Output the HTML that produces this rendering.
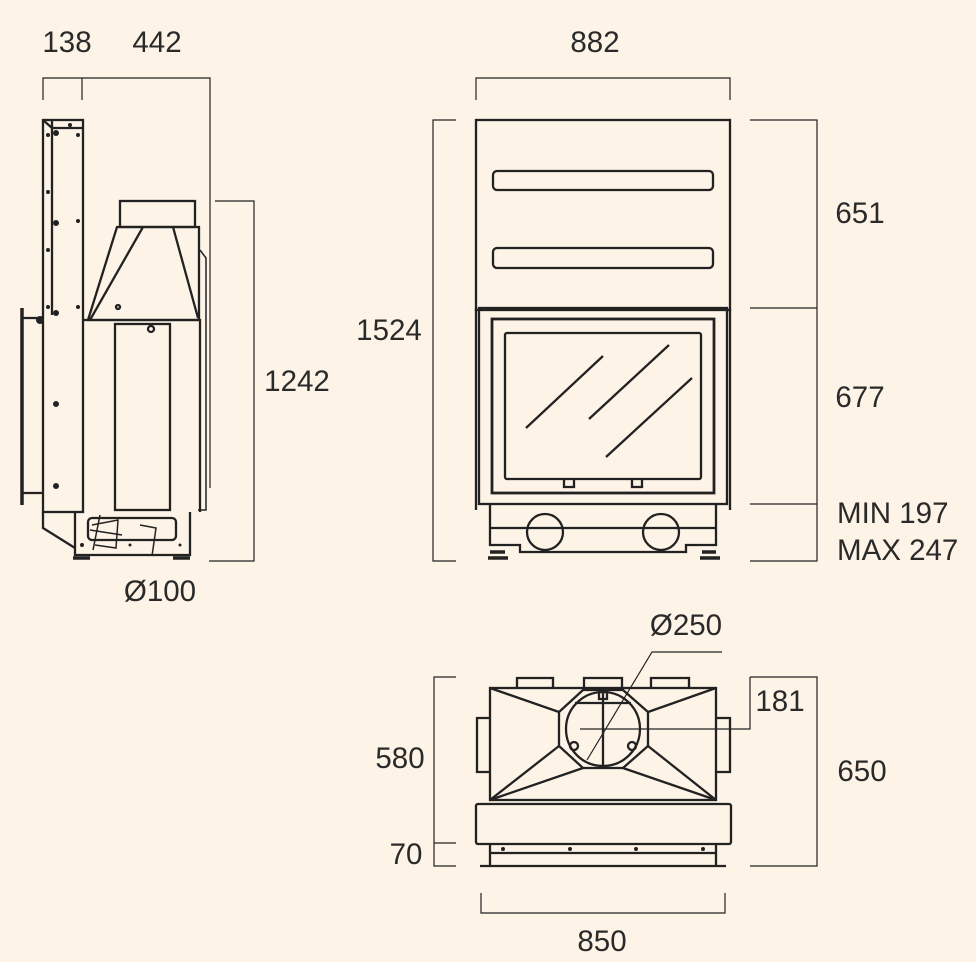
<!DOCTYPE html>
<html><head><style>
html,body{margin:0;padding:0;background:#fdf3e6;}
svg{display:block;}
text{font-family:"Liberation Sans",sans-serif;font-size:29.5px;fill:#2a2a2a;}
</style></head><body>
<svg width="976" height="962" viewBox="0 0 976 962" xmlns="http://www.w3.org/2000/svg">
<rect width="976" height="962" fill="#fdf3e6"/>
<g fill="none" stroke="#222" stroke-width="1.2">
<path d="M43,100V78H210V488 M82,78V100 M215,201H254V561H209"/>
</g>
<g fill="none" stroke="#222" stroke-width="2.3">
<rect x="43" y="120" width="40" height="392"/>
<path d="M52,120V315 M43,120L52,128 M52,128H83"/>
<path d="M22,308V505" stroke-width="3.5"/>
<path d="M22,318H43 M22,493H43"/>
<rect x="120" y="201" width="75" height="26"/>
<path d="M117,227H199V320H88Z M143,227L90,320 M173,227L198,318"/>
<path d="M83,320H200V512"/>
<path d="M200,250L206,258V510H198" stroke-width="1.5"/>
<rect x="115" y="324" width="55" height="186"/>
<path d="M43,512V528L75,548 M75,512V555H190V512"/>
<rect x="88" y="518" width="88" height="22" rx="4"/>
<path d="M100,515L93,550 M92,525L118,520L116,548L95,545 M90,530L122,535 M140,525L156,528L152,556" stroke-width="1.5"/>
<path d="M73,558H90 M173,558H190" stroke-width="3.5"/>
<circle cx="151" cy="329" r="3"/>
<circle cx="118" cy="307" r="2"/>
</g>
<g fill="#222">
<circle cx="56" cy="133" r="3"/><circle cx="48" cy="135" r="2"/><circle cx="78" cy="135" r="2"/><circle cx="70" cy="125" r="2"/>
<circle cx="48" cy="192" r="2"/><circle cx="56" cy="223" r="3"/><circle cx="78" cy="221" r="2"/><circle cx="48" cy="250" r="2"/>
<circle cx="48" cy="307" r="2"/><circle cx="56" cy="313" r="3"/><circle cx="78" cy="307" r="2"/>
<circle cx="56" cy="404" r="3"/><circle cx="56" cy="486" r="3"/><circle cx="40" cy="320" r="4"/>
<circle cx="82" cy="545" r="2"/><circle cx="130" cy="545" r="1.5"/><circle cx="180" cy="545" r="1.5"/>
</g>
<g fill="none" stroke="#222" stroke-width="1.2">
<path d="M476,100V78H730V100 M456,120H433V561H456 M750,120H817V561H750 M750,308H817 M750,504H817"/>
</g>
<g fill="none" stroke="#222" stroke-width="2.3">
<rect x="476" y="120" width="254" height="190"/>
<rect x="493" y="171" width="220" height="19" rx="4"/>
<rect x="493" y="248" width="220" height="20" rx="4"/>
<rect x="479" y="308" width="248" height="196"/>
<rect x="492" y="319" width="222" height="174" stroke-width="2.8"/>
<rect x="505" y="333" width="196" height="146" rx="2"/>
<path d="M526,428L603,356 M589,419L669,345 M606,457L692,378"/>
<path d="M564,479V487H574V479 M632,479V487H642V479"/>
<path d="M476,308V510 M730,308V510"/>
<path d="M490,504V545H520V552H686V545H716V504 M490,528H716"/>
<circle cx="545" cy="532" r="18"/><circle cx="661" cy="532" r="18"/>
<path d="M490,552H505 M702,552H716 M488,558H508 M700,558H720" stroke-width="3.5"/>
</g>
<g fill="none" stroke="#222" stroke-width="1.2">
<path d="M456,677H434V866H456 M434,843H456 M750,677H817V866H750 M481,893V913H725V893"/>
<path d="M580,729H750V677 M722,652H652L587,760"/>
</g>
<g fill="none" stroke="#222" stroke-width="2.3">
<rect x="490" y="688" width="226" height="112"/>
<path d="M490,688L559,712 M716,688L648,712 M490,800L559,746 M716,800L648,746 M490,800L583,768 M716,800L623,768"/>
<path d="M583,690H623L648,712V746L623,768H583L559,746V712Z"/>
<circle cx="603" cy="729" r="37"/>
<path d="M603,692V768 M575,703H631"/>
<path d="M517,687V678H553V687 M584,687V678H622V687 M651,687V678H689V687"/>
<path d="M490,718H477V772H490 M716,718H730V772H716"/>
<rect x="476" y="804" width="255" height="40" rx="2"/>
<path d="M490,844V866H716V844 M490,853H716 M480,866H726"/>
<rect x="599" y="692" width="8" height="7"/>
<circle cx="574" cy="746" r="4"/><circle cx="632" cy="746" r="4"/>
</g>
<g fill="#222">
<circle cx="503" cy="849" r="2"/><circle cx="570" cy="849" r="2"/><circle cx="636" cy="849" r="2"/><circle cx="703" cy="849" r="2"/>
</g>
<text x="67" y="52" text-anchor="middle">138</text>
<text x="157" y="52" text-anchor="middle">442</text>
<text x="595" y="52" text-anchor="middle">882</text>
<text x="297" y="391" text-anchor="middle">1242</text>
<text x="160" y="601" text-anchor="middle">Ø100</text>
<text x="389" y="340" text-anchor="middle">1524</text>
<text x="860" y="223" text-anchor="middle">651</text>
<text x="860" y="407" text-anchor="middle">677</text>
<text x="837" y="523">MIN 197</text>
<text x="837" y="560">MAX 247</text>
<text x="686" y="635" text-anchor="middle">Ø250</text>
<text x="780" y="711" text-anchor="middle">181</text>
<text x="400" y="768" text-anchor="middle">580</text>
<text x="406" y="864" text-anchor="middle">70</text>
<text x="862" y="781" text-anchor="middle">650</text>
<text x="602" y="951" text-anchor="middle">850</text>
</svg>
</body></html>
